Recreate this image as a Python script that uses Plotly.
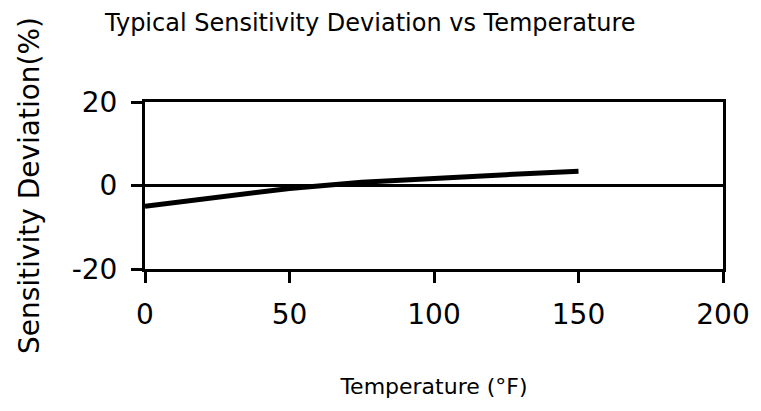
import plotly.graph_objects as go

# Data
temperature_f = [0, 25, 50, 75, 100, 125, 150]
sensitivity_dev = [-5.0, -2.8, -0.7, 0.8, 1.8, 2.6, 3.4]

x_ticks = [0, 50, 100, 150, 200]
y_ticks = [-20, 0, 20]

title_text = "Typical Sensitivity Deviation vs Temperature"
x_title = "Temperature (°F)"
y_title = "Sensitivity Deviation(%)"

TICK_FONT = dict(family="DejaVu Sans, sans-serif", size=28, color="black")
TEXT_FONT = dict(family="DejaVu Sans, sans-serif", color="black")

# The page body adds an 8px offset; margins compensate for it.
fig = go.Figure()
fig.add_trace(go.Scatter(
    x=temperature_f, y=sensitivity_dev, mode="lines",
    line=dict(color="black", width=5), showlegend=False, hoverinfo="skip"))

fig.update_layout(
    width=761, height=411,
    margin=dict(l=137, r=46, t=94, b=150, autoexpand=False),
    paper_bgcolor="white", plot_bgcolor="white",
    title=dict(text=title_text, x=97/761, xanchor="left", xref="container",
               y=1-15/411, yref="container", yanchor="middle",
               font=dict(size=24, **TEXT_FONT)),
)
fig.update_xaxes(
    range=[0, 200], tickvals=x_ticks, ticktext=[str(v) for v in x_ticks],
    showgrid=False, zeroline=False, automargin=False,
    showline=True, linecolor="black", linewidth=3, mirror=True,
    ticks="outside", ticklen=11, tickwidth=3, tickcolor="black",
    tickfont=TICK_FONT, ticklabelstandoff=7,
    title=dict(text=x_title, font=dict(size=22, **TEXT_FONT), standoff=50),
)
fig.update_yaxes(
    range=[-20, 20], tickvals=y_ticks, ticktext=[str(v) for v in y_ticks],
    showgrid=False, zeroline=True, zerolinecolor="black", zerolinewidth=3,
    automargin=False,
    showline=True, linecolor="black", linewidth=3, mirror=True,
    ticks="outside", ticklen=11, tickwidth=3, tickcolor="black",
    tickfont=TICK_FONT, ticklabelstandoff=8,
    title=dict(text=y_title, font=dict(size=28, **TEXT_FONT), standoff=24),
)

fig.write_html("out.html")
